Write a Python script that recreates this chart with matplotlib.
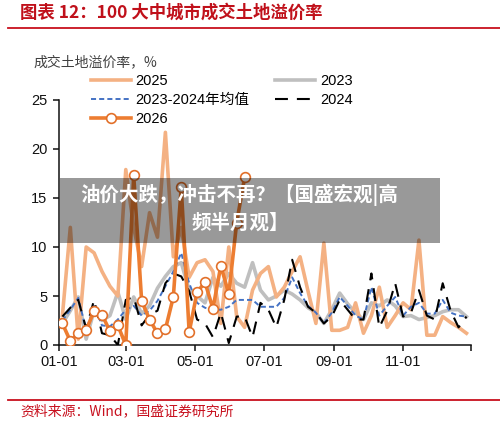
import matplotlib
matplotlib.use("Agg")
import matplotlib.pyplot as plt
import matplotlib.dates as mdates
from matplotlib.patches import Rectangle
import pandas as pd

plt.rcParams['font.family'] = ['Liberation Sans', 'Noto Sans CJK SC', 'DejaVu Sans']

# ---------------- data ----------------
weeks = pd.date_range('2025-01-04', periods=52, freq='7D')
weeks_2026 = weeks[:24]

s2025 = [3.0, 12.0, 0.6, 10.0, 9.4, 7.5, 6.0, 5.0, 17.9, 12.0, 8.0, 13.5, 11.0,
         21.7, 9.0, 12.0, 6.9, 8.4, 8.7, 7.5, 2.2, 10.0, 2.9, 1.8, 5.6, 7.3,
         8.0, 4.9, 5.9, 7.5, 9.0, 5.5, 2.2, 10.4, 1.5, 1.5, 1.8, 4.3, 1.2, 3.0,
         5.9, 1.8, 3.0, 4.3, 3.6, 10.7, 1.0, 1.0, 2.9, 2.3, 1.8, 1.2]
s2023 = [2.2, 3.5, 4.9, 0.6, 3.5, 2.5, 3.0, 5.4, 2.6, 4.9, 3.2, 4.0, 5.8,
         7.0, 8.0, 8.4, 5.6, 5.0, 4.3, 6.9, 6.0, 7.3, 6.3, 5.9, 8.4, 5.6,
         4.6, 5.0, 5.6, 5.2, 4.6, 3.8, 3.3, 2.2, 3.6, 5.3, 4.2, 3.3, 2.6, 4.3,
         4.0, 4.6, 4.0, 2.9, 3.0, 2.6, 2.8, 3.0, 3.4, 3.6, 3.6, 2.9]
s2024 = [2.9, 3.8, 4.6, 1.7, 4.6, 1.2, 1.0, 0.0, 4.6, 4.9, 2.0, 3.1, 3.5,
         6.3, 7.3, 7.0, 5.5, 2.6, 2.2, 0.8, 3.3, 0.2, 2.9, 2.9, 0.8, 4.3,
         3.6, 1.8, 4.6, 8.7, 5.9, 3.9, 3.3, 2.2, 2.9, 4.6, 3.6, 2.6, 2.6, 7.3,
         1.8, 3.5, 6.3, 2.9, 3.3, 5.6, 3.0, 2.6, 6.3, 3.5, 1.8, 2.9]
s_avg = [2.5, 3.6, 4.8, 1.5, 4.0, 2.0, 1.9, 2.6, 3.6, 4.0, 3.0, 3.5, 4.5,
         6.0, 7.5, 9.4, 6.3, 4.3, 3.8, 3.6, 3.6, 3.9, 4.6, 4.6, 4.6, 3.9,
         3.9, 3.9, 4.8, 6.9, 5.3, 4.0, 3.3, 2.2, 3.3, 4.9, 4.0, 3.0, 2.6, 5.9,
         3.0, 4.0, 4.9, 3.0, 3.9, 4.3, 3.2, 3.2, 4.6, 3.3, 3.0, 2.9]
s2026 = [2.2, 0.4, 1.2, 1.5, 3.5, 3.1, 1.4, 2.0, 0.0, 17.3, 4.5, 2.6, 1.2,
         1.6, 4.9, 16.1, 1.3, 5.4, 6.4, 3.7, 8.1, 5.2, 12.5, 17.1]

tick_dates = ['2025-01-01', '2025-03-01', '2025-05-01', '2025-07-01',
              '2025-09-01', '2025-11-01', '2025-12-31']
tick_labels = ['01-01', '03-01', '05-01', '07-01', '09-01', '11-01', '']
y_ticks = [0, 5, 10, 15, 20, 25]

title = '图表 12：100 大中城市成交土地溢价率'
ylabel = '成交土地溢价率，%'
source = '资料来源：Wind，国盛证券研究所'
banner_lines = ['油价大跌，冲击不再？【国盛宏观|高', '频半月观】']

# ---------------- figure ----------------
fig = plt.figure(figsize=(5.0, 4.22), dpi=100)
ax = fig.add_axes([59/500, 1-345/422, (471-59)/500, (345-100)/422])

l23, = ax.plot(weeks, s2023, color='#BFBFBF', lw=2.6, label='2023', zorder=2)
l25, = ax.plot(weeks, s2025, color='#F4B183', lw=2.6, label='2025', zorder=3)
lav, = ax.plot(weeks, s_avg, color='#4472C4', lw=1.4, ls=(0, (2.6, 1.6)),
               label='2023-2024年均值', zorder=4)
l24, = ax.plot(weeks, s2024, color='black', lw=1.5, ls=(0, (6.2, 4.3)),
               label='2024', zorder=5)
l26, = ax.plot(weeks_2026, s2026, color='#ED7D31', lw=2.6, marker='o',
               markersize=7, markerfacecolor='white', markeredgecolor='#E2702A',
               markeredgewidth=1.2, label='2026', zorder=6)

ax.set_xlim(pd.Timestamp('2025-01-01'), pd.Timestamp('2025-12-31'))
ax.set_ylim(0, 25)
ax.set_yticks(y_ticks)
ax.set_xticks(pd.to_datetime(tick_dates))
ax.set_xticklabels(tick_labels)
for s in ['top', 'right']:
    ax.spines[s].set_visible(False)
for s in ['left', 'bottom']:
    ax.spines[s].set_linewidth(1.1)
    ax.spines[s].set_color('#111111')
ax.tick_params(axis='both', direction='out', length=4.5, width=1.1,
               labelsize=10.5, colors='#111111', pad=3)
ax.tick_params(axis='y', pad=4)
ax.patch.set_alpha(0)

handles = [l25, lav, l26, l23, l24]
leg = ax.legend(handles=handles, labels=[h.get_label() for h in handles],
                ncol=2, loc='upper left', bbox_to_anchor=(0.045, 1.16),
                frameon=False, fontsize=10.5, handlelength=2.75,
                columnspacing=1.8, labelspacing=0.35, handletextpad=0.3)

fig.text(20/500, 1-13/422, title, color='#C0101A', fontsize=12.5,
         fontweight='bold', va='center', ha='left',
         family=['Noto Sans CJK SC', 'DejaVu Sans'])
fig.add_artist(plt.Line2D([8/500, 1.0], [1-28/422, 1-28/422],
                          color='#C8101E', lw=1.3))
fig.text(33/500, 1-62/422, ylabel, color='#404040', fontsize=10,
         va='center', ha='left', family=['Noto Sans CJK SC', 'DejaVu Sans'])
fig.add_artist(plt.Line2D([8/500, 1.0], [1-400/422, 1-400/422],
                          color='#C8101E', lw=1.3))
fig.text(20/500, 1-411/422, source, color='#C8101E', fontsize=10,
         va='center', ha='left', style='italic',
         family=['Noto Sans CJK SC', 'DejaVu Sans'])

# overlay banner
fig.add_artist(Rectangle((60/500, 1-243/422), 380/500, 65/422,
                         transform=fig.transFigure, facecolor='black',
                         alpha=0.4, edgecolor='none', zorder=10))
fig.text(239/500, 1-195/422, banner_lines[0], color='white', fontsize=14,
         fontweight='bold', ha='center', va='center', zorder=11,
         family=['Noto Sans CJK SC', 'DejaVu Sans'])
fig.text(240/500, 1-223/422, banner_lines[1], color='white', fontsize=14,
         fontweight='bold', ha='center', va='center', zorder=11,
         family=['Noto Sans CJK SC', 'DejaVu Sans'])

fig.savefig('out.png', dpi=100)
